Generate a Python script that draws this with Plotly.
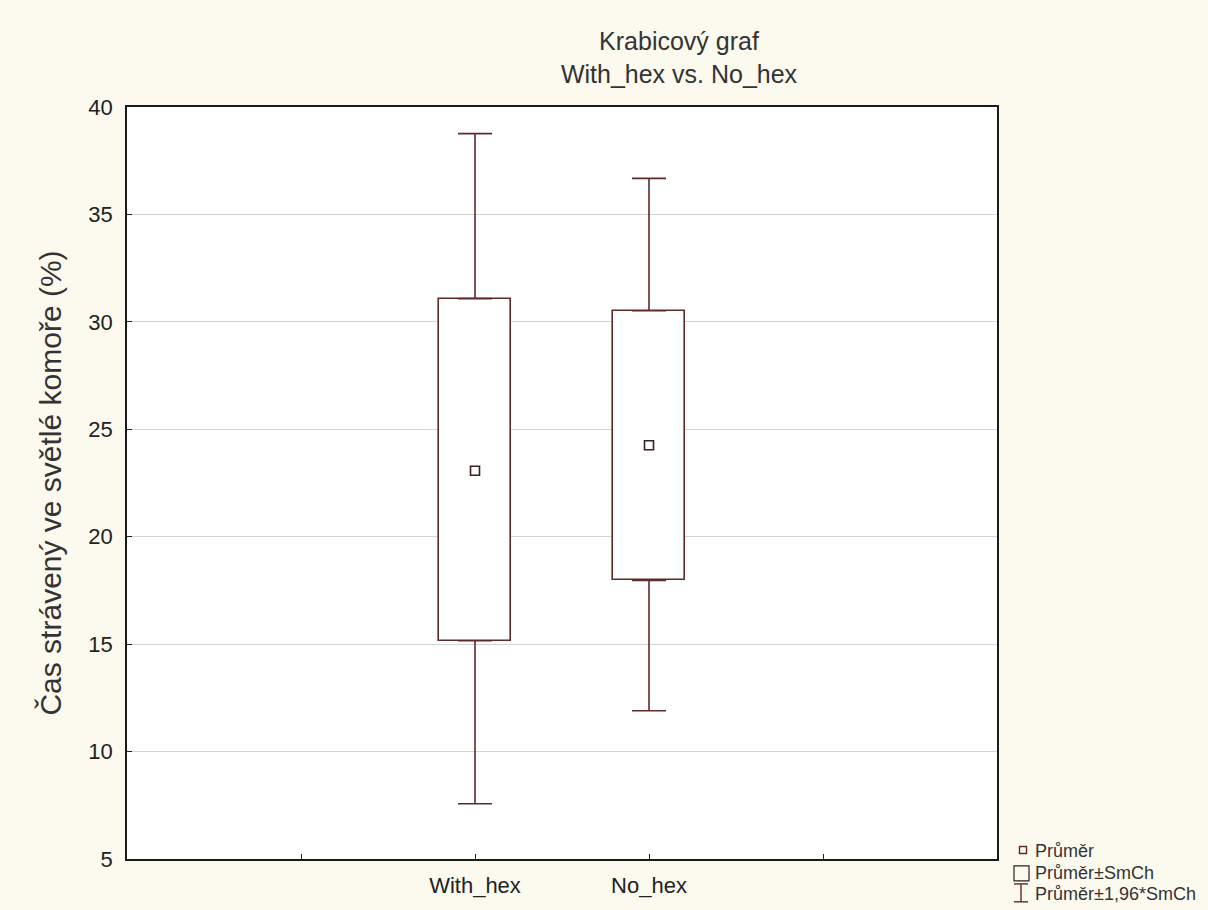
import plotly.graph_objects as go

categories = ["With_hex", "No_hex"]
means = [23.07, 24.26]
se_low = [15.16, 17.97]
se_high = [31.08, 30.52]
ci_low = [7.57, 11.90]
ci_high = [38.76, 36.68]
y_ticks = [5, 10, 15, 20, 25, 30, 35, 40]
axis_categories = [" ", "With_hex", "No_hex", "  "]

MAROON = "#5e2a2a"
BG = "#fcf9ef"
FONT = "Liberation Sans, Arial, sans-serif"

fig = go.Figure()

fig.add_trace(go.Bar(
    x=categories,
    y=[h - l for h, l in zip(se_high, se_low)],
    base=se_low,
    width=0.41,
    marker=dict(color="white", line=dict(color=MAROON, width=1.6)),
    showlegend=False, hoverinfo="skip",
))

fig.add_trace(go.Scatter(
    x=categories, y=se_high, mode="markers",
    marker=dict(size=1, color="rgba(0,0,0,0)"),
    error_y=dict(type="data", symmetric=False,
                 array=[c - s for c, s in zip(ci_high, se_high)],
                 arrayminus=[0, 0], width=17, thickness=1.6, color=MAROON),
    showlegend=False, hoverinfo="skip",
))
fig.add_trace(go.Scatter(
    x=categories, y=se_low, mode="markers",
    marker=dict(size=1, color="rgba(0,0,0,0)"),
    error_y=dict(type="data", symmetric=False,
                 array=[0, 0],
                 arrayminus=[s - c for s, c in zip(se_low, ci_low)],
                 width=17, thickness=1.6, color=MAROON),
    showlegend=False, hoverinfo="skip",
))
fig.add_trace(go.Scatter(
    x=categories, y=means, mode="markers",
    marker=dict(symbol="square-open", size=9, color="#3a1f1f",
                line=dict(width=1.6, color="#3a1f1f")),
    showlegend=False,
))

L, R, T, B = 127, 997, 107, 862
W, H = 1208, 910


def px(x):
    return (x - L) / (R - L)


def py(y):
    return (B - y) / (B - T)


shapes = [
    dict(type="rect", xref="paper", yref="paper",
         x0=px(1019.5), x1=px(1026.5), y0=py(849.5), y1=py(856.5),
         line=dict(color=MAROON, width=1.4)),
    dict(type="rect", xref="paper", yref="paper",
         x0=px(1014), x1=px(1029), y0=py(869), y1=py(884),
         line=dict(color="#222222", width=1.2)),
    dict(type="line", xref="paper", yref="paper",
         x0=px(1021), x1=px(1021), y0=py(887), y1=py(905),
         line=dict(color=MAROON, width=1.4)),
    dict(type="line", xref="paper", yref="paper",
         x0=px(1014), x1=px(1028), y0=py(887), y1=py(887),
         line=dict(color=MAROON, width=1.4)),
    dict(type="line", xref="paper", yref="paper",
         x0=px(1014), x1=px(1028), y0=py(905), y1=py(905),
         line=dict(color=MAROON, width=1.4)),
]

legend_labels = ["Průměr", "Průměr±SmCh", "Průměr±1,96*SmCh"]
legend_y = [854, 876, 897]
annotations = [
    dict(text=t, xref="paper", yref="paper", x=px(1033), y=py(yy),
         xanchor="left", yanchor="middle", showarrow=False,
         font=dict(family=FONT, size=18, color="#333333"))
    for t, yy in zip(legend_labels, legend_y)
]

fig.update_layout(
    width=W, height=H,
    paper_bgcolor=BG, plot_bgcolor="white",
    margin=dict(l=L, r=W - R, t=T, b=H - B),
    font=dict(family=FONT, color="#222222"),
    title=dict(text="Krabicový graf<br>With_hex vs. No_hex",
               x=px(679), xref="paper", xanchor="center",
               y=1 - 50 / H, yref="container", yanchor="top",
               font=dict(family=FONT, size=25, color="#333333")),
    shapes=shapes, annotations=annotations,
    bargap=0,
)

fig.update_yaxes(
    range=[5, 40], tickvals=y_ticks, ticks="inside", ticklen=5,
    tickcolor="#222222", tickfont=dict(size=22, color="#222222"),
    ticklabelstandoff=8,
    showgrid=True, gridcolor="#d4d4d4", gridwidth=1, zeroline=False,
    showline=True, mirror=True, linecolor="#1a1a1a", linewidth=1.6,
    title=dict(text="Čas strávený ve světlé komoře (%)",
               font=dict(size=30, color="#333333"), standoff=18),
)
fig.update_xaxes(
    type="category", categoryorder="array", categoryarray=axis_categories,
    range=[-1, 4], ticks="inside", ticklen=5, tickcolor="#222222",
    tickfont=dict(size=22, color="#222222"), ticklabelstandoff=6,
    showgrid=False, zeroline=False,
    showline=True, mirror=True, linecolor="#1a1a1a", linewidth=1.6,
)

fig.write_html(
    "out.html",
    config={"displayModeBar": False},
    post_script="document.body.style.margin='0';"
                "document.body.style.background='" + BG + "';",
)
